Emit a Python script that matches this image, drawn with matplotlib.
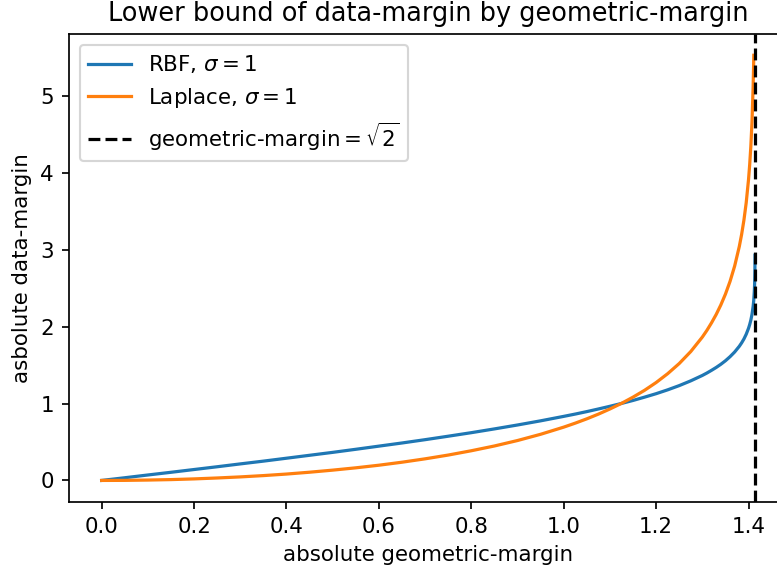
import matplotlib
matplotlib.use("Agg")
import matplotlib.pyplot as plt

# geometric margin (x) vs data margin (y)
x_rbf = [0.0, 0.05, 0.1, 0.15, 0.2, 0.25, 0.3, 0.35, 0.4, 0.45, 0.5, 0.55,
         0.6, 0.65, 0.7, 0.75, 0.8, 0.85, 0.9, 0.95, 1.0, 1.025, 1.05, 1.075,
         1.1, 1.125, 1.15, 1.175, 1.2, 1.225, 1.25, 1.275, 1.3, 1.31, 1.32,
         1.33, 1.34, 1.35, 1.36, 1.37, 1.38, 1.385, 1.39, 1.395, 1.40, 1.4025,
         1.405, 1.4075, 1.41, 1.411, 1.4114, 1.4125, 1.413, 1.4135, 1.4138,
         1.41408]
y_rbf = [0.0, 0.035, 0.071, 0.106, 0.142, 0.178, 0.215, 0.251, 0.289, 0.327,
         0.365, 0.405, 0.446, 0.487, 0.530, 0.575, 0.621, 0.670, 0.721, 0.775,
         0.833, 0.863, 0.895, 0.929, 0.964, 1.001, 1.040, 1.083, 1.128, 1.178,
         1.233, 1.295, 1.365, 1.397, 1.432, 1.469, 1.510, 1.556, 1.609, 1.670,
         1.744, 1.788, 1.839, 1.901, 1.978, 2.026, 2.084, 2.159, 2.264, 2.323,
         2.351, 2.454, 2.523, 2.626, 2.727, 2.928]

x_lap = [0.0, 0.05, 0.1, 0.15, 0.2, 0.25, 0.3, 0.35, 0.4, 0.45, 0.5, 0.55,
         0.6, 0.65, 0.7, 0.75, 0.8, 0.85, 0.9, 0.95, 1.0, 1.025, 1.05, 1.075,
         1.1, 1.125, 1.15, 1.175, 1.2, 1.225, 1.25, 1.275, 1.3, 1.31, 1.32,
         1.33, 1.34, 1.35, 1.36, 1.37, 1.38, 1.385, 1.39, 1.395, 1.40, 1.4025,
         1.405, 1.4075, 1.41, 1.411, 1.4114]
y_lap = [0.0, 0.001, 0.005, 0.011, 0.020, 0.032, 0.046, 0.063, 0.083, 0.107,
         0.134, 0.164, 0.198, 0.237, 0.281, 0.330, 0.386, 0.448, 0.519, 0.600,
         0.693, 0.745, 0.801, 0.862, 0.929, 1.002, 1.083, 1.172, 1.273, 1.388,
         1.520, 1.676, 1.864, 1.952, 2.050, 2.158, 2.281, 2.422, 2.588, 2.788,
         3.041, 3.197, 3.383, 3.612, 3.912, 4.105, 4.344, 4.660, 5.125, 5.395,
         5.528]

limit = 1.4142  # sqrt(2)

dpi = 154
fig = plt.figure(figsize=(777 / dpi, 573 / dpi), dpi=dpi)
# the reference is cut off on the right, so the axes run past the edge
ax = fig.add_axes([69 / 777, 71.3 / 573, 718.7 / 777, 467.7 / 573])

ax.plot(x_rbf, y_rbf, label=r'RBF, $\sigma=1$')
ax.plot(x_lap, y_lap, label=r'Laplace, $\sigma=1$')
ax.axvline(limit, color='k', linestyle='--', label=r'geometric-margin$=\sqrt{2}$')

ax.set_title('Lower bound of data-margin by geometric-margin')
ax.set_xlabel('absolute geometric-margin')
ax.set_ylabel('asbolute data-margin')
ax.legend(loc='upper left')

fig.savefig('out.png', dpi=dpi)
